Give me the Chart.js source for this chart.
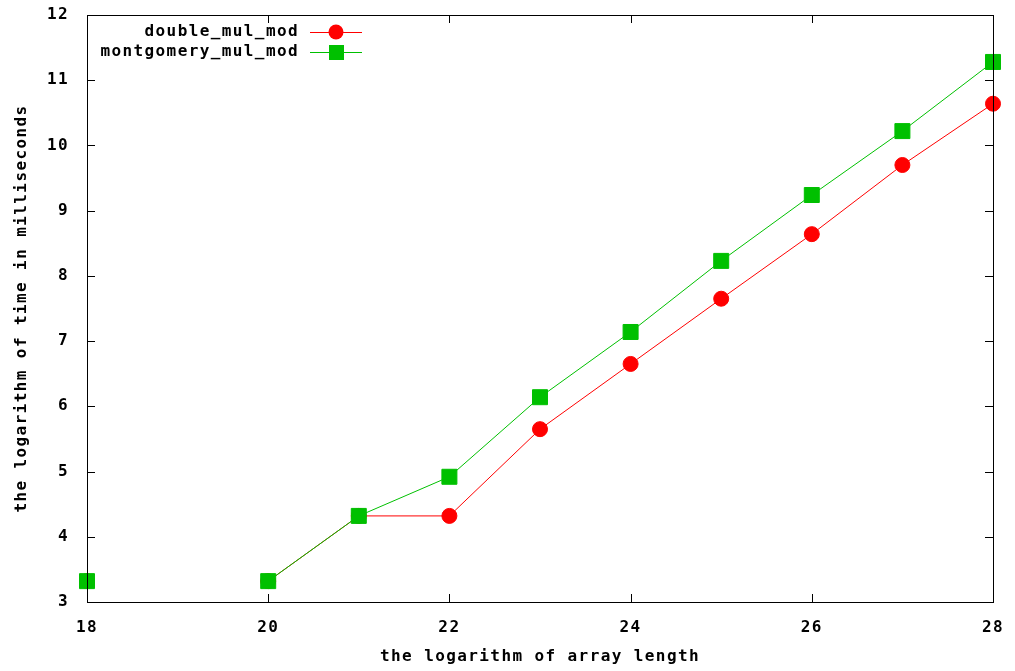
<!DOCTYPE html>
<html>
<head>
<meta charset="utf-8">
<script src="https://cdn.jsdelivr.net/npm/chart.js@4/dist/chart.umd.min.js"></script>
<style>
  html, body { margin:0; padding:0; background:#fff; }
  #wrap { width:1015px; height:671px; }
</style>
</head>
<body>
<div id="wrap"><canvas id="c"></canvas></div>
<script>
// values (log2 of array length vs log of ms)
const xLabels = [18, 19, 20, 21, 22, 23, 24, 25, 26, 27, 28];
const doubleMulMod = [3.32, null, 3.32, 4.32, 4.32, 5.65, 6.65, 7.65, 8.64, 9.70, 10.64];
const montgomeryMulMod = [3.32, null, 3.32, 4.32, 4.92, 6.14, 7.14, 8.23, 9.24, 10.22, 11.28];
const seriesNames = ['double_mul_mod', 'montgomery_mul_mod'];
const seriesColors = ['#ff0000', '#00c000'];
const xTicks = [18, 20, 22, 24, 26, 28];
const yTicks = [3, 4, 5, 6, 7, 8, 9, 10, 11, 12];

const FONT = '"DejaVu Sans Mono", monospace';
const SPACING = '1.4px';

// gnuplot-ish frame: box, inward ticks on all four sides, mirrored
const framePlugin = {
  id: 'frame',
  beforeDraw(chart){ chart.ctx.letterSpacing = SPACING; },
  afterDatasetsDraw(chart){
    const {ctx, chartArea:a, scales:{x, y}} = chart;
    ctx.save();
    ctx.strokeStyle = '#000';
    ctx.lineWidth = 1;
    ctx.beginPath();
    xTicks.forEach(v => {
      const px = Math.round(x.getPixelForValue(v)) + 0.5;
      ctx.moveTo(px, a.bottom); ctx.lineTo(px, a.bottom - 8);
      ctx.moveTo(px, a.top); ctx.lineTo(px, a.top + 8);
    });
    yTicks.forEach(v => {
      const py = Math.round(y.getPixelForValue(v)) + 0.5;
      ctx.moveTo(a.left, py); ctx.lineTo(a.left + 8, py);
      ctx.moveTo(a.right, py); ctx.lineTo(a.right - 8, py);
    });
    ctx.stroke();
    ctx.strokeRect(Math.round(a.left) + 0.5, Math.round(a.top) + 0.5,
                   Math.round(a.right - a.left), Math.round(a.bottom - a.top));
    ctx.restore();
  },
  afterDraw(chart){
    // key in the top-left corner, text right-aligned, sample line + marker
    const ctx = chart.ctx;
    ctx.save();
    ctx.letterSpacing = SPACING;
    ctx.font = 'bold 16px ' + FONT;
    ctx.textAlign = 'right';
    ctx.textBaseline = 'middle';
    seriesNames.forEach((name, i) => {
      const yy = 32 + i * 20;
      ctx.fillStyle = '#000';
      ctx.fillText(name, 299, yy);
      ctx.strokeStyle = seriesColors[i];
      ctx.lineWidth = 1;
      ctx.beginPath(); ctx.moveTo(310, yy + 0.5); ctx.lineTo(362, yy + 0.5); ctx.stroke();
      ctx.fillStyle = seriesColors[i];
      if(i === 0){ ctx.beginPath(); ctx.arc(336, yy, 7.5, 0, Math.PI * 2); ctx.fill(); }
      else ctx.fillRect(329, yy - 7, 15, 15);
    });
    ctx.restore();
  }
};

const tickFont = { family: FONT, size: 16, weight: 'bold' };

new Chart(document.getElementById('c'), {
  type: 'line',
  data: {
    labels: xLabels,
    datasets: [
      { label: seriesNames[0], data: doubleMulMod, borderColor: seriesColors[0], backgroundColor: seriesColors[0],
        borderWidth: 1, pointStyle: 'circle', pointRadius: 7.5, pointHoverRadius: 7.5, spanGaps: false, order: 1, clip: false },
      { label: seriesNames[1], data: montgomeryMulMod, borderColor: seriesColors[1], backgroundColor: seriesColors[1],
        borderWidth: 1, pointStyle: 'rect', pointRadius: 10.6, pointHoverRadius: 10.6, spanGaps: false, order: 0, clip: false }
    ]
  },
  options: {
    responsive: true,
    maintainAspectRatio: false,
    animation: false,
    events: [],
    layout: { padding: { top: 15, right: 22, left: 0, bottom: 0 } },
    plugins: { legend: { display: false }, tooltip: { enabled: false } },
    scales: {
      x: {
        type: 'linear', min: 18, max: 28,
        grid: { display: false }, border: { display: false },
        afterBuildTicks(s){ s.ticks = xTicks.map(v => ({ value: v })); },
        afterFit(s){ s.height = 69; s.paddingLeft = 0; s.paddingRight = 0; },
        ticks: { color: '#000', font: tickFont, padding: 8, maxRotation: 0 },
        title: { display: true, text: 'the logarithm of array length', color: '#000',
                 font: tickFont, padding: { top: 4, bottom: 5 } }
      },
      y: {
        min: 3, max: 12,
        grid: { display: false }, border: { display: false },
        afterBuildTicks(s){ s.ticks = yTicks.map(v => ({ value: v })); },
        afterFit(s){ s.width = 87; s.paddingTop = 0; s.paddingBottom = 0; },
        ticks: { color: '#000', font: tickFont, padding: 10 },
        title: { display: true, text: 'the logarithm of time in milliseconds', color: '#000',
                 font: tickFont, padding: { top: 12, bottom: 4 } }
      }
    }
  },
  plugins: [framePlugin]
});
</script>
</body>
</html>
